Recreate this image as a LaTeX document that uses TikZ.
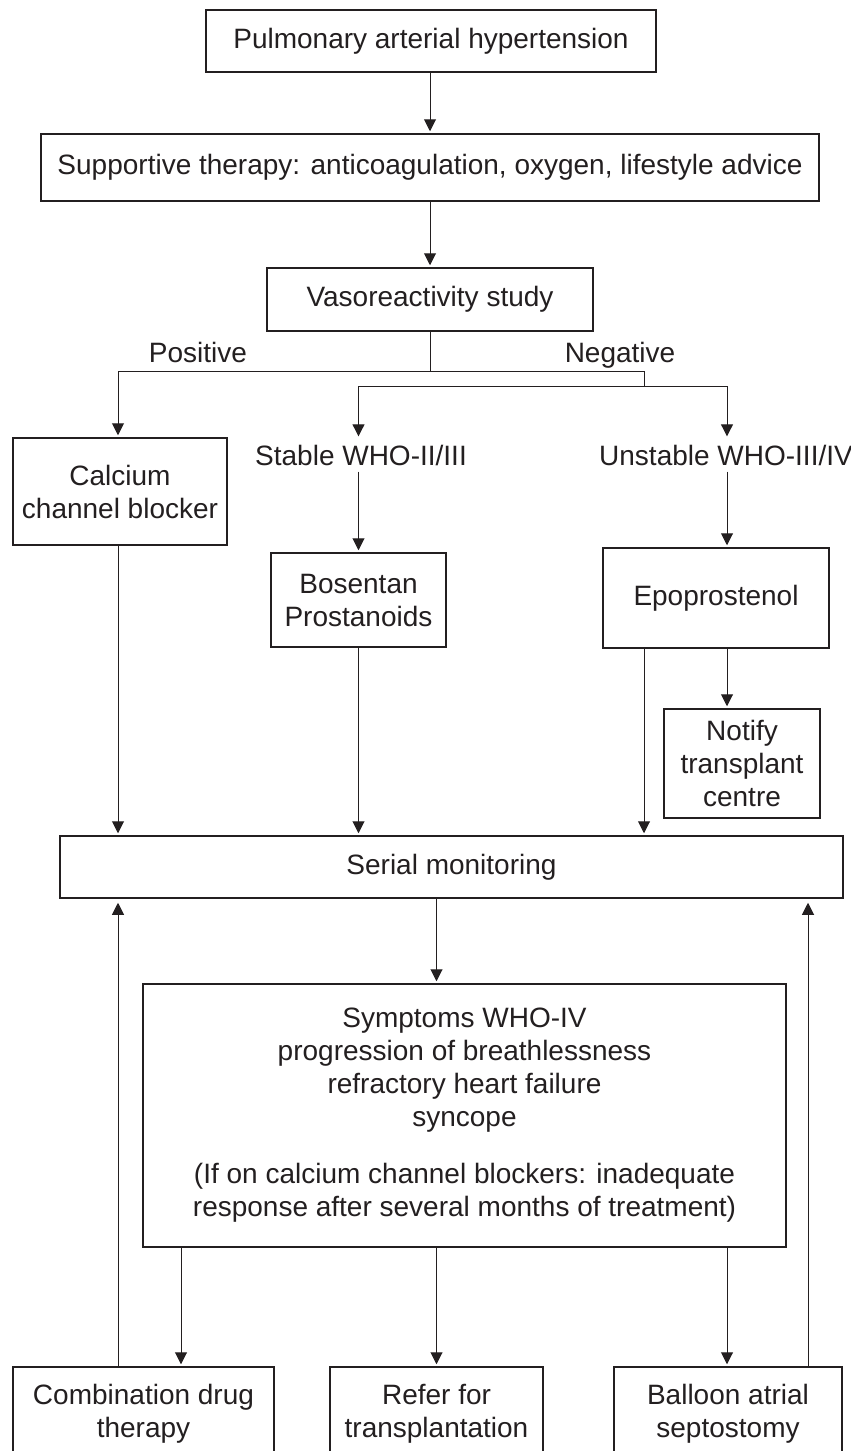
\documentclass[tikz,border=0pt]{standalone}
\usepackage{fontspec}
\setmainfont{Liberation Sans}
\usetikzlibrary{arrows.meta,calc}
\definecolor{ink}{RGB}{35,31,32}
\tikzset{
  box/.style={draw=ink, line width=0.75pt, fill=white, inner sep=0pt, align=center, text=ink,
    font=\fontsize{14}{16.5}\selectfont},
  lbl/.style={inner sep=0pt, align=center, text=ink, font=\fontsize{14}{16.5}\selectfont},
  arr/.style={draw=ink, line width=0.5pt, -{Triangle[width=6pt,length=6pt]}, shorten >=1pt},
  ln/.style={draw=ink, line width=0.5pt}
}
\begin{document}
\begin{tikzpicture}[x=0.5pt,y=-0.5pt]
\useasboundingbox (0,0) rectangle (851,1451);
\clip (0,0) rectangle (851,1451);
\fill[white] (0,0) rectangle (851,1451);

\node[box, minimum width=225pt, minimum height=31pt] (pah) at (431,41) {Pulmonary arterial hypertension};
\node[box, minimum width=389pt, minimum height=33.5pt] (sup) at (430,167.5) {Supportive therapy: anticoagulation, oxygen, lifestyle advice};
\node[box, minimum width=163pt, minimum height=31.5pt] (vaso) at (430,299.5) {Vasoreactivity study};
\node[lbl, anchor=base] (pos) at (198,362) {Positive};
\node[lbl, anchor=base] (neg) at (620,362) {Negative};
\node[box, minimum width=107pt, minimum height=53.5pt] (ccb) at (120,491.5) {Calcium\\channel blocker};
\node[lbl, anchor=base] (stable) at (361,465) {Stable WHO-II/III};
\node[lbl, anchor=base] (unstable) at (726,465) {Unstable WHO-III/IV};
\node[box, minimum width=87.5pt, minimum height=47pt] (bos) at (358.5,600) {Bosentan\\Prostanoids};
\node[box, minimum width=113pt, minimum height=50pt] (epo) at (716,598) {Epoprostenol};
\node[box, minimum width=78pt, minimum height=54.5pt] (notify) at (742,763.5) {Notify\\transplant\\centre};
\node[box, minimum width=391.5pt, minimum height=31pt] (serial) at (451.5,867) {Serial monitoring};
\node[box, minimum width=321.5pt, minimum height=131.5pt] (symp) at (464.5,1115.5)
  {Symptoms WHO-IV\\progression of breathlessness\\refractory heart failure\\syncope\\[12pt](If on calcium channel blockers: inadequate\\response after several months of treatment)};
\node[box, minimum width=130.5pt, minimum height=46.5pt] (comb) at (143.5,1413.5) {Combination drug\\therapy};
\node[box, minimum width=106.5pt, minimum height=46.5pt] (refer) at (436.5,1413.5) {Refer for\\transplantation};
\node[box, minimum width=114pt, minimum height=46.5pt] (balloon) at (728,1413.5) {Balloon atrial\\septostomy};

% top chain
\draw[arr] (pah.south -| vaso) -- (sup.north -| vaso);
\draw[arr] (sup.south -| vaso) -- (vaso.north);

% branching
\coordinate (j1) at (430,371);
\coordinate (jL) at (118,371);
\coordinate (jR) at (644,371);
\coordinate (j2) at (644,386);
\coordinate (j2L) at (358.5,386);
\coordinate (j2R) at (727,386);
\draw[ln] (vaso.south) -- (j1);
\draw[ln] (jL) -- (jR) -- (j2);
\draw[ln] (j2L) -- (j2R);
\draw[arr] (jL) -- (jL |- ccb.north);
\draw[arr, shorten >=4pt] (j2L) -- (j2L |- stable.north);
\draw[arr, shorten >=4pt] (j2R) -- (j2R |- unstable.north);

\draw[arr, shorten <=3pt] (stable.south -| bos) -- (bos.north);
\draw[arr, shorten <=3pt] (unstable.south -| j2R) -- (epo.north -| j2R);

% down to serial monitoring
\draw[arr] (ccb.south -| jL) -- (serial.north -| jL);
\draw[arr] (bos.south) -- (bos.south |- serial.north);
\draw[arr] (epo.south -| jR) -- (serial.north -| jR);
\draw[arr] (epo.south -| j2R) -- (notify.north -| j2R);

% serial to symptoms
\draw[arr] (serial.south -| refer) -- (symp.north -| refer);

% symptoms to outcomes
\coordinate (cx) at (181,1300);
\draw[arr] (symp.south -| cx) -- (comb.north -| cx);
\draw[arr] (symp.south -| refer) -- (refer.north);
\draw[arr] (symp.south -| j2R) -- (balloon.north -| j2R);

% feedback to serial monitoring
\coordinate (fb) at (808,1300);
\draw[arr, shorten >=2pt] (comb.north -| jL) -- (serial.south -| jL);
\draw[arr, shorten >=2pt] (balloon.north -| fb) -- (serial.south -| fb);
\end{tikzpicture}
\end{document}
